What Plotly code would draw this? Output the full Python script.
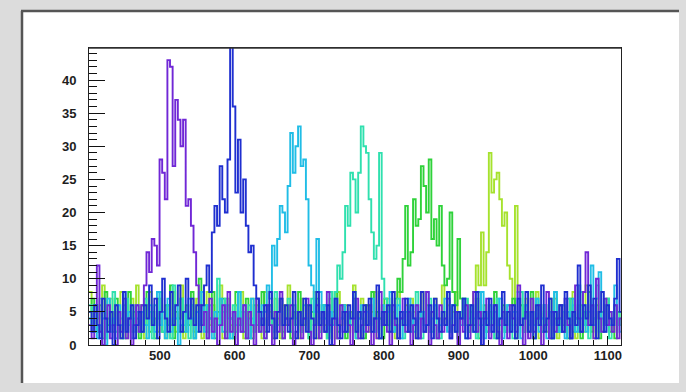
import numpy as np
import plotly.graph_objects as go

# ---- data: histogram bin layout ----
x_start = 405
bin_width = 3.5

# ---- data: bin contents per series ----
purple = [3,1,5,12,2,0,4,6,1,3,0,5,2,7,1,4,0,3,6,2,
          6,9,14,11,16,15,12,28,26,22,43,42,27,37,34,30,34,21,22,18,
          14,9,6,3,5,1,7,2,4,0,3,6,1,8,2,5,0,4,2,6,
          1,5,3,0,7,2,4,1,6,3,0,5,2,8,1,4,3,6,0,2,
          5,1,4,7,2,0,3,6,1,5,2,8,3,0,4,1,6,2,5,3,
          0,4,7,1,3,5,2,6,0,4,1,8,3,5,2,0,6,3,1,4,
          7,2,5,0,3,6,1,4,2,8,0,5,3,1,6,2,4,7,1,3,
          5,0,4,2,6,1,3,8,2,5,0,4,7,1,3,6,2,0,5,3,
          1,6,4,2,9,3,0,5,1,7,2,4,6,0,3,8,1,5,2,4,
          6,2,7,3,1,5,9,4,2,8,14,3,6,1,10,4,2,7,3,5,
          2,6,1,4]
blue = [5,2,6,3,1,7,4,2,5,0,6,3,1,8,2,4,6,1,3,5,
        2,6,4,9,3,7,1,5,10,4,2,8,3,6,9,2,5,10,4,7,
        3,6,2,6,9,12,8,17,21,18,27,22,20,28,45,36,23,31,20,25,
        18,14,15,9,7,5,3,6,2,8,4,1,5,7,3,6,2,4,8,1,
        5,3,7,2,6,4,1,8,3,5,2,6,0,4,7,3,1,5,2,6,
        4,8,2,5,1,6,3,7,2,4,9,1,5,3,6,2,8,4,1,5,
        3,7,2,6,4,1,5,8,2,3,6,1,7,4,2,5,3,8,1,6,
        2,5,4,7,1,3,6,2,8,4,0,5,3,7,2,6,1,4,8,3,
        5,2,6,1,7,3,4,8,2,5,1,6,3,9,2,4,7,1,5,3,
        6,2,8,4,1,5,3,12,2,6,4,9,3,7,1,5,8,2,6,4,
        3,7,13,5]
cyan = [4,2,6,1,3,5,0,7,2,4,1,6,3,8,2,5,1,4,6,2,
        5,3,1,6,4,2,8,3,5,1,7,2,4,6,0,3,5,2,7,4,
        1,5,3,8,2,6,4,1,5,3,7,2,6,4,1,5,3,8,2,6,
        4,1,7,3,5,2,6,5,9,7,15,12,16,21,20,17,24,32,26,30,
        33,27,28,22,12,9,5,16,8,4,6,2,5,3,7,1,4,6,2,5,
        3,8,1,4,6,2,5,3,7,2,4,1,6,3,5,8,2,4,6,1,
        5,3,7,2,4,6,1,5,3,8,2,4,6,1,3,5,7,2,4,6,
        2,5,3,7,1,4,6,2,5,3,8,1,4,6,2,5,3,7,1,4,
        6,2,5,3,8,1,4,6,2,5,3,7,2,4,6,1,5,3,8,2,
        4,6,1,5,3,7,2,9,4,6,2,5,12,3,7,11,4,2,6,3,
        5,9,4,2]
aqua = [6,3,5,2,7,4,1,6,3,8,2,5,4,1,7,3,6,2,5,4,
        2,7,3,5,1,6,4,8,2,3,6,1,9,4,2,7,3,5,1,6,
        4,2,8,3,5,1,6,4,2,10,3,5,7,1,4,6,2,8,3,5,
        1,6,4,2,7,3,5,1,4,6,2,8,3,5,1,4,7,2,6,3,
        5,2,6,4,1,7,3,5,2,6,4,1,8,3,8,12,10,14,21,18,
        26,25,20,26,33,30,29,22,17,13,15,29,10,7,5,2,6,3,7,4,
        1,5,3,6,2,8,4,1,5,3,7,2,6,4,1,5,3,8,2,6,
        4,1,5,3,7,2,6,4,1,8,3,5,2,6,4,1,7,3,5,2,
        6,3,1,5,4,8,2,6,3,5,1,7,4,2,6,3,5,1,8,4,
        2,5,3,7,1,6,4,2,8,3,5,1,6,4,9,2,5,3,7,1,
        4,6,3,5]
green = [5,7,2,4,6,1,8,3,5,2,7,4,1,6,3,8,2,5,4,1,
         6,3,8,2,5,1,7,4,2,6,3,9,1,5,4,7,2,6,3,8,
         1,5,10,3,6,2,4,8,1,5,3,7,2,6,4,1,8,3,5,2,
         7,4,1,6,3,5,8,2,4,6,1,5,3,7,2,4,6,1,5,3,
         8,2,4,6,1,5,3,7,2,4,6,1,5,3,8,2,4,6,1,5,
         3,7,2,5,4,1,6,3,8,2,5,4,1,7,3,6,2,7,10,8,
         13,21,12,14,22,18,19,27,24,20,28,16,19,15,21,12,9,10,20,8,
         6,16,7,4,6,2,5,3,7,1,4,6,2,5,3,8,1,4,6,2,
         5,3,7,1,4,6,2,5,3,8,1,4,6,2,5,3,7,1,4,2,
         6,3,5,1,7,2,4,6,1,5,3,8,2,4,6,1,5,3,7,2,
         4,1,5,3]
yellowgreen = [8,3,6,2,5,9,1,4,7,3,6,2,8,5,1,4,7,3,9,2,
               5,1,6,8,3,4,2,7,5,1,6,3,8,2,4,9,1,5,3,6,
               2,7,4,1,5,8,3,6,2,4,9,1,5,7,3,2,6,4,8,1,
               5,3,7,2,6,4,1,8,3,5,2,7,4,1,6,3,9,2,5,4,
               1,7,3,6,2,5,8,1,4,6,3,2,7,5,1,8,3,4,6,2,
               5,9,1,4,7,3,6,2,5,8,1,4,6,3,7,2,5,1,8,4,
               3,6,2,7,5,1,4,8,3,6,2,5,7,1,4,9,3,6,2,5,
               8,1,4,7,3,6,5,8,12,9,17,9,14,29,23,25,26,22,18,20,
               12,10,6,21,8,6,4,7,2,5,3,8,1,4,6,2,5,3,7,1,
               4,6,2,5,3,8,1,4,6,2,9,3,5,1,7,4,2,6,3,5,
               2,6,4,3]

x_tick_vals = [500, 600, 700, 800, 900, 1000, 1100]
y_tick_vals = [0, 5, 10, 15, 20, 25, 30, 35, 40]

series = [
    ("yellowgreen", yellowgreen, "#a6e22e"),
    ("green", green, "#2fd23a"),
    ("aqua", aqua, "#2fe0ae"),
    ("cyan", cyan, "#20bde6"),
    ("purple", purple, "#7027d6"),
    ("blue", blue, "#1f2fd0"),
]

n = len(purple)
for name, vals, _ in series:
    if len(vals) != n:
        raise ValueError(f"{name} has {len(vals)} bins, expected {n}")

edges = x_start + bin_width * np.arange(n + 1)

fig = go.Figure()
for name, vals, col in series:
    fig.add_trace(go.Scatter(
        x=edges, y=list(vals) + [vals[-1]],
        mode="lines", line=dict(color=col, width=1.9, shape="hv"),
        name=name, showlegend=False, hoverinfo="skip"))

W, H = 686, 392
L, R, T, B = 89, 621, 48, 345
pw, ph = R - L, B - T


def px(xp):
    return (xp - L) / pw


def py(yp):
    return (B - yp) / ph


tick_font = dict(family="Liberation Sans, Arial, sans-serif", size=13,
                 color="#1e1e1e", weight="bold")

fig.update_layout(
    width=W, height=H,
    margin=dict(l=L, r=W - R, t=T, b=H - B, pad=0),
    paper_bgcolor="#dcdcdc",
    plot_bgcolor="white",
    showlegend=False,
    xaxis=dict(range=[405, 1117.5], tickvals=x_tick_vals,
               ticks="inside", ticklen=9, tickcolor="#111", tickwidth=1,
               minor=dict(dtick=20, tick0=500, ticks="inside", ticklen=5,
                          tickcolor="#111"),
               showgrid=False, zeroline=False, automargin=False,
               showline=True, linecolor="#222", linewidth=1, mirror=True,
               tickfont=tick_font, ticklabelstandoff=-2),
    yaxis=dict(range=[0, 44.83], tickvals=y_tick_vals,
               ticks="inside", ticklen=16, tickcolor="#111", tickwidth=1,
               minor=dict(dtick=1, tick0=0, ticks="inside", ticklen=8,
                          tickcolor="#111"),
               showgrid=False, zeroline=False, automargin=False,
               showline=True, linecolor="#222", linewidth=1, mirror=True,
               tickfont=tick_font, ticklabelstandoff=9),
    shapes=[
        dict(type="rect", xref="paper", yref="paper", layer="below",
             x0=px(22), x1=px(679), y0=py(383), y1=py(11),
             fillcolor="white", line=dict(width=0)),
        dict(type="line", xref="paper", yref="paper",
             x0=px(21), x1=px(679), y0=py(11), y1=py(11),
             line=dict(color="#555", width=2.5)),
        dict(type="line", xref="paper", yref="paper",
             x0=px(22), x1=px(22), y0=py(383), y1=py(11),
             line=dict(color="#555", width=2.5)),
        dict(type="line", xref="paper", yref="paper",
             x0=0, x1=1, y0=1, y1=1,
             line=dict(color="#333", width=1.5)),
    ],
)

fig.write_html(
    "out.html",
    config={"displayModeBar": False},
    post_script="document.body.style.margin='0px';"
                "document.body.style.overflow='hidden';",
)
